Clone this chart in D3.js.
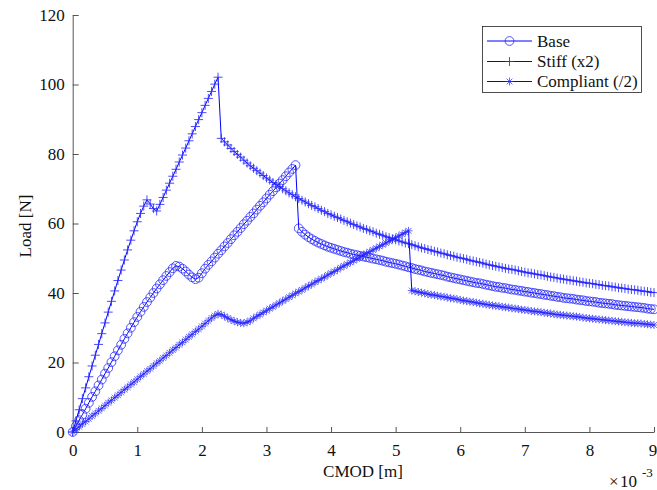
<!DOCTYPE html>
<html><head><meta charset="utf-8">
<script src="https://cdn.jsdelivr.net/npm/d3@7"></script>
<style>body{margin:0;background:#fff}svg{display:block}</style>
</head><body>
<svg id="c" width="657" height="490"></svg>
<script>
// CMOD values (units of 1e-3 m)
const cmod = [
0,0.05,0.1,0.15,0.2,0.25,0.3,0.35,0.4,0.45,
0.5,0.55,0.6,0.65,0.7,0.75,0.8,0.85,0.9,0.95,
1,1.05,1.1,1.15,1.2,1.25,1.3,1.35,1.4,1.45,
1.5,1.55,1.6,1.65,1.7,1.75,1.8,1.85,1.9,1.95,
2,2.05,2.1,2.15,2.2,2.25,2.3,2.35,2.4,2.45,
2.5,2.55,2.6,2.65,2.7,2.75,2.8,2.85,2.9,2.95,
3,3.05,3.1,3.15,3.2,3.25,3.3,3.35,3.4,3.45,
3.5,3.55,3.6,3.65,3.7,3.75,3.8,3.85,3.9,3.95,
4,4.05,4.1,4.15,4.2,4.25,4.3,4.35,4.4,4.45,
4.5,4.55,4.6,4.65,4.7,4.75,4.8,4.85,4.9,4.95,
5,5.05,5.1,5.15,5.2,5.25,5.3,5.35,5.4,5.45,
5.5,5.55,5.6,5.65,5.7,5.75,5.8,5.85,5.9,5.95,
6,6.05,6.1,6.15,6.2,6.25,6.3,6.35,6.4,6.45,
6.5,6.55,6.6,6.65,6.7,6.75,6.8,6.85,6.9,6.95,
7,7.05,7.1,7.15,7.2,7.25,7.3,7.35,7.4,7.45,
7.5,7.55,7.6,7.65,7.7,7.75,7.8,7.85,7.9,7.95,
8,8.05,8.1,8.15,8.2,8.25,8.3,8.35,8.4,8.45,
8.5,8.55,8.6,8.65,8.7,8.75,8.8,8.85,8.9,8.95,
9];

const base = [
0,1.7,3.4,5.0,6.7,8.4,10.1,11.7,13.4,15.1,
16.8,18.4,20.1,21.8,23.5,25.1,26.8,28.4,30.0,31.6,
33.1,34.6,36.0,37.4,38.7,40.0,41.3,42.5,43.7,44.9,
46.0,47.1,47.8,47.6,47.0,46.2,45.3,44.5,44.0,44.4,
45.7,47.0,48.1,49.1,50.2,51.3,52.3,53.4,54.4,55.5,
56.6,57.6,58.7,59.8,60.8,61.9,62.9,64.0,65.1,66.1,
67.2,68.3,69.3,70.4,71.5,72.5,73.6,74.7,75.7,76.8,
58.6,57.6,56.8,56.1,55.5,55.0,54.5,54.1,53.7,53.3,
53.0,52.7,52.4,52.1,51.8,51.6,51.3,51.1,50.9,50.7,
50.5,50.3,50.1,49.9,49.7,49.5,49.3,49.0,48.8,48.6,
48.4,48.2,47.9,47.7,47.4,47.2,46.9,46.7,46.5,46.2,
46.0,45.8,45.6,45.4,45.2,45.0,44.7,44.5,44.3,44.1,
43.9,43.7,43.5,43.3,43.1,42.9,42.8,42.6,42.4,42.2,
42.0,41.8,41.7,41.5,41.4,41.2,41.0,40.9,40.7,40.6,
40.4,40.3,40.1,40.0,39.8,39.7,39.5,39.4,39.2,39.1,
38.9,38.8,38.6,38.5,38.4,38.3,38.1,38.0,37.9,37.7,
37.6,37.5,37.4,37.2,37.1,37.0,36.9,36.8,36.6,36.5,
36.4,36.3,36.2,36.1,36.0,35.9,35.8,35.7,35.5,35.4,
35.3];

const stiff = [
0,3.2,6.4,9.6,12.7,15.9,19.0,22.1,25.2,28.3,
31.4,34.5,37.6,40.6,43.6,46.6,49.5,52.4,55.2,57.9,
60.5,62.9,65.0,66.8,65.6,64.3,63.6,65.5,67.5,69.6,
71.6,73.6,75.6,77.7,79.7,81.7,83.8,85.8,87.9,89.9,
91.9,94.0,96.0,98.0,100.1,102.1,84.5,83.5,82.6,81.6,
80.7,79.9,79.1,78.2,77.4,76.6,75.9,75.2,74.5,73.8,
73.1,72.5,71.8,71.2,70.6,70.0,69.4,68.8,68.3,67.7,
67.2,66.7,66.2,65.7,65.2,64.8,64.3,63.8,63.4,62.9,
62.5,62.1,61.7,61.3,60.9,60.5,60.1,59.7,59.3,59.0,
58.6,58.3,57.9,57.6,57.2,56.9,56.6,56.2,55.9,55.6,
55.3,55.0,54.7,54.4,54.2,53.9,53.6,53.3,53.0,52.8,
52.5,52.3,52.0,51.8,51.5,51.3,51.0,50.8,50.6,50.3,
50.1,49.9,49.7,49.4,49.2,49.0,48.8,48.6,48.3,48.1,
47.9,47.7,47.5,47.3,47.1,46.9,46.8,46.6,46.4,46.2,
46.0,45.8,45.7,45.5,45.3,45.2,45.0,44.8,44.6,44.5,
44.3,44.1,44.0,43.8,43.7,43.5,43.4,43.2,43.1,42.9,
42.8,42.7,42.5,42.4,42.2,42.1,42.0,41.8,41.7,41.5,
41.4,41.3,41.1,41.0,40.9,40.8,40.6,40.5,40.4,40.2,
40.1];

const compliant = [
0,0.8,1.5,2.3,3.0,3.8,4.6,5.3,6.1,6.8,
7.6,8.4,9.1,9.9,10.6,11.4,12.2,12.9,13.7,14.4,
15.2,16.0,16.7,17.5,18.2,19.0,19.8,20.5,21.3,22.0,
22.8,23.6,24.3,25.1,25.8,26.6,27.4,28.1,28.9,29.6,
30.4,31.2,32.0,32.8,33.5,34.0,33.8,33.3,32.8,32.3,
31.9,31.6,31.4,31.3,31.6,32.0,32.7,33.3,33.8,34.4,
34.9,35.5,36.0,36.6,37.1,37.7,38.2,38.8,39.3,39.9,
40.4,40.9,41.5,42.0,42.5,43.1,43.6,44.1,44.6,45.2,
45.7,46.2,46.7,47.3,47.8,48.3,48.8,49.3,49.8,50.4,
50.9,51.4,51.9,52.4,52.9,53.4,53.9,54.4,54.9,55.4,
55.9,56.4,56.9,57.4,57.9,40.7,40.5,40.3,40.1,39.9,
39.7,39.5,39.4,39.2,39.0,38.9,38.7,38.5,38.4,38.2,
38.0,37.8,37.7,37.5,37.4,37.2,37.0,36.9,36.7,36.6,
36.4,36.3,36.2,36.0,35.9,35.8,35.6,35.5,35.4,35.2,
35.1,35.0,34.8,34.7,34.6,34.5,34.3,34.2,34.1,33.9,
33.8,33.7,33.6,33.5,33.4,33.3,33.2,33.1,32.9,32.8,
32.7,32.6,32.5,32.4,32.3,32.2,32.1,32.0,31.9,31.8,
31.7,31.6,31.5,31.4,31.3,31.3,31.2,31.1,31.0,30.9,
30.8];

const xTicks = [0,1,2,3,4,5,6,7,8,9];
const yTicks = [0,20,40,60,80,100,120];
const seriesNames = ["Base","Stiff (x2)","Compliant (/2)"];
const markerTypes = ["circle","plus","star"];

const FONT = "'Liberation Serif','Times New Roman',serif";
const BLUE = "#0000ff";
const MARK = "#2a2aff";
const svg = d3.select("#c");

const x = d3.scaleLinear().domain([0,9]).range([72.7,654]);
const y = d3.scaleLinear().domain([0,120]).range([432,15]);

// axes
const gx = svg.append("g").attr("transform","translate(0,432)")
  .call(d3.axisBottom(x).tickValues(xTicks).tickFormat(d3.format("d")).tickSize(-5).tickSizeOuter(0).tickPadding(12));
const gy = svg.append("g").attr("transform","translate(72.7,0)")
  .call(d3.axisLeft(y).tickValues(yTicks).tickFormat(d3.format("d")).tickSize(-6).tickSizeOuter(0).tickPadding(8));
[gx,gy].forEach(g=>{
  g.attr("font-family",FONT);
  g.selectAll("path.domain").attr("stroke","#555").attr("stroke-width",1);
  g.selectAll(".tick line").attr("stroke","#555").attr("stroke-width",1);
  g.selectAll(".tick text").attr("font-family",FONT).attr("font-size",17).attr("fill","#111");
});
gx.selectAll(".tick text").filter(d=>d===9).attr("dx",-1.5);

// axis labels
svg.append("text").attr("x",363).attr("y",477).attr("text-anchor","middle")
  .attr("font-family",FONT).attr("font-size",17).attr("fill","#111").text("CMOD [m]");
svg.append("text").attr("transform","translate(31,226) rotate(-90)").attr("text-anchor","middle")
  .attr("font-family",FONT).attr("font-size",17).attr("fill","#111").text("Load [N]");
svg.append("text").attr("x",609).attr("y",487)
  .attr("font-family",FONT).attr("font-size",17).attr("fill","#111").text("\u00d7\u200a10");
svg.append("text").attr("x",642).attr("y",477)
  .attr("font-family",FONT).attr("font-size",13).attr("fill","#111").text("-3");

// markers
function markerPath(type){
  if(type==="plus") return "M-4.5,0H4.5M0,-4.5V4.5";
  if(type==="star") return "M-4,0H4M0,-4V4M-2.9,-2.9L2.9,2.9M-2.9,2.9L2.9,-2.9";
  return null;
}
function drawMarker(g, type, cx, cy){
  if(type==="circle"){
    g.append("circle").attr("cx",cx).attr("cy",cy).attr("r",4.4)
      .attr("fill","none").attr("stroke",MARK).attr("stroke-width",0.8);
  } else {
    g.append("path").attr("transform",`translate(${cx},${cy})`).attr("d",markerPath(type))
      .attr("fill","none").attr("stroke",MARK).attr("stroke-width",type==="plus"?1:0.85)
      .attr("stroke-opacity",0.85);
  }
}

const series = [base, stiff, compliant];
const line = d3.line().x((d,i)=>x(cmod[i])).y(d=>y(d));
series.forEach((vals,s)=>{
  const g = svg.append("g");
  g.append("path").datum(vals).attr("d",line).attr("fill","none")
    .attr("stroke",BLUE).attr("stroke-width",1);
  vals.forEach((v,i)=>drawMarker(g, markerTypes[s], x(cmod[i]), y(v)));
});

// legend
const lg = svg.append("g");
lg.append("rect").attr("x",482.5).attr("y",26.5).attr("width",159).attr("height",66)
  .attr("fill","#fff").attr("stroke","#222").attr("stroke-width",0.8);
const rows = [41, 61.5, 81.5];
seriesNames.forEach((name,s)=>{
  lg.append("line").attr("x1",487).attr("x2",532).attr("y1",rows[s]).attr("y2",rows[s])
    .attr("stroke",BLUE).attr("stroke-width",1);
  drawMarker(lg, markerTypes[s], 509.5, rows[s]);
  lg.append("text").attr("x",537).attr("y",rows[s]+5.5).attr("font-family",FONT)
    .attr("font-size",17).attr("fill","#111").text(name);
});
</script>
</body></html>
